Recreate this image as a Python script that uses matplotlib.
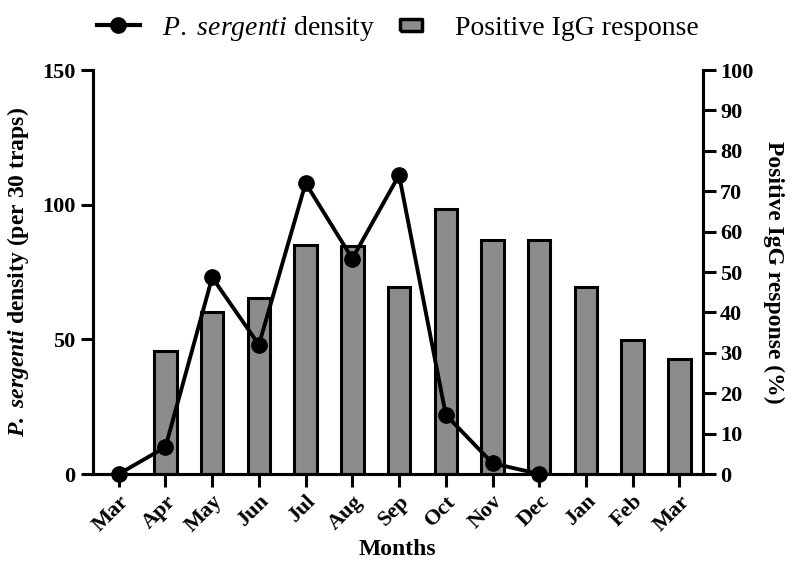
import numpy as np
import matplotlib.pyplot as plt
from matplotlib.lines import Line2D

plt.rcParams['font.family'] = ['Liberation Serif', 'DejaVu Serif']
plt.rcParams['mathtext.fontset'] = 'custom'
plt.rcParams['mathtext.rm'] = 'Liberation Serif'
plt.rcParams['mathtext.it'] = 'Liberation Serif:italic'
plt.rcParams['mathtext.bf'] = 'Liberation Serif:bold'
plt.rcParams['mathtext.bfit'] = 'Liberation Serif:bold:italic'

months = ["Mar", "Apr", "May", "Jun", "Jul", "Aug", "Sep", "Oct", "Nov", "Dec", "Jan", "Feb", "Mar"]
density = [0, 10, 73, 48, 108, 80, 111, 22, 4, 0, np.nan, np.nan, np.nan]
igg = [0, 30.5, 40, 43.6, 56.8, 56.5, 46.2, 65.6, 57.9, 58, 46.2, 33.3, 28.5]

x = np.arange(len(months))
grey = "#8c8c8c"

fig = plt.figure(figsize=(7.95, 5.65), dpi=100)
ax = fig.add_axes([0.117, 0.161, 0.767, 0.715])
ax2 = ax.twinx()

ax2.bar(x, igg, width=0.48, color=grey, edgecolor="black", linewidth=2.2, zorder=1)
ax.plot(x, density, color="black", linewidth=2.8, marker="o", markersize=11, zorder=5, clip_on=False)

ax.set_zorder(ax2.get_zorder() + 1)
ax.patch.set_visible(False)

ax.set_xlim(-0.55, 12.5)
ax.set_ylim(0, 150)
ax2.set_ylim(0, 100)
ax.set_yticks([0, 50, 100, 150])
ax2.set_yticks(np.arange(0, 101, 10))
ax.set_xticks(x)
ax.set_xticklabels(months, rotation=45, ha="right", rotation_mode="anchor", fontsize=16, fontweight="bold")

for a in (ax, ax2):
    for s in a.spines.values():
        s.set_linewidth(2.2)
    a.spines["top"].set_visible(False)
    a.tick_params(width=2.2, length=9, labelsize=16)
    for lab in a.get_yticklabels():
        lab.set_fontweight("bold")

ax.set_xlabel("Months", fontsize=17, fontweight="bold", labelpad=2)
ax.set_ylabel(r"$\mathbfit{P.}$ $\mathbfit{sergenti}$ density (per 30 traps)", fontsize=17, fontweight="bold", labelpad=8)
ax2.set_ylabel("Positive IgG response (%)", fontsize=17, fontweight="bold", rotation=270, labelpad=22)

rect = [(-1, -0.5), (1, -0.5), (1, 0.5), (-1, 0.5), (-1, -0.5)]
handles = [Line2D([0], [0], color="black", linewidth=3, marker="o", markersize=11),
           Line2D([0], [0], linestyle="none", marker=rect, markersize=16, markerfacecolor=grey,
                  markeredgecolor="black", markeredgewidth=2.5)]
labels = [r"$\mathit{P.}$ $\mathit{sergenti}$ density", "Positive IgG response"]
fig.legend(handles, labels, loc="upper center", bbox_to_anchor=(0.5, 1.02), ncol=2, frameon=False,
           fontsize=20, handlelength=1.55, handletextpad=0.8, columnspacing=0.5)

fig.savefig("out.png", dpi=100)
